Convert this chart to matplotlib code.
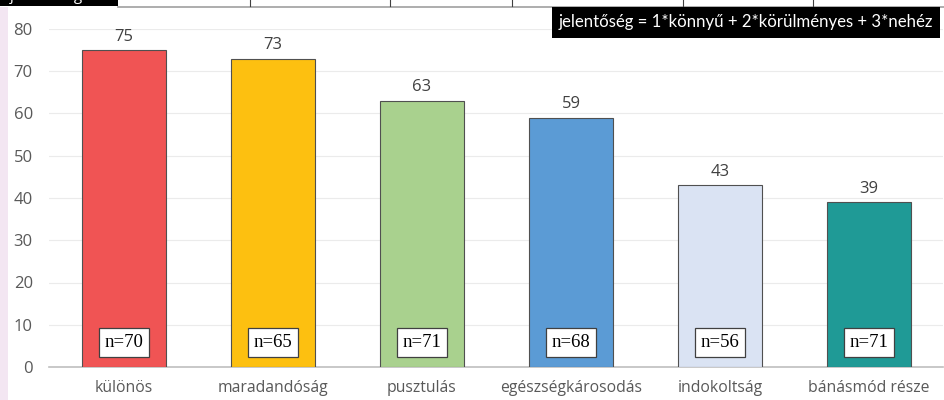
import matplotlib
matplotlib.use("Agg")
import matplotlib.pyplot as plt
from matplotlib.patches import Rectangle

categories = ["különös", "maradandóság", "pusztulás", "egészségkárosodás", "indokoltság", "bánásmód része"]
values = [75, 73, 63, 59, 43, 39]
n_labels = ["n=70", "n=65", "n=71", "n=68", "n=56", "n=71"]
colors = ["#F05454", "#FDC010", "#A9D18E", "#5B9BD5", "#DAE3F3", "#1F9A96"]
yticks = [0, 10, 20, 30, 40, 50, 60, 70, 80]
note = "jelentőség = 1*könnyű + 2*körülményes + 3*nehéz"
table_head = "jelentőség"

plt.rcParams["font.family"] = ["Open Sans", "DejaVu Sans"]

fig = plt.figure(figsize=(9.45, 4.0), dpi=100)
W, H = 945, 400

# left lavender strip
fig.patches.append(Rectangle((0, 0), 8 / W, 1 - 7 / H, transform=fig.transFigure,
                             facecolor="#F3E6F2", edgecolor="none", zorder=0))

ax = fig.add_axes([49.5 / W, 1 - 367 / H, 894 / W, 338 / H])
x = list(range(len(categories)))
ax.bar(x, values, width=0.56, color=colors, edgecolor="#505050", linewidth=0.8, zorder=3)
ax.set_xlim(-0.5, len(categories) - 0.5)
ax.set_ylim(0, 80)
ax.set_yticks(yticks)
ax.set_xticks(x)
ax.set_xticklabels(categories)
ax.tick_params(axis="x", length=0, labelsize=11.3, colors="#595959", pad=9)
ax.tick_params(axis="y", length=0, labelsize=12, colors="#595959", pad=12)
ax.grid(axis="y", color="#EBEBEB", linewidth=0.8, zorder=0)
for s in ["top", "right", "left"]:
    ax.spines[s].set_visible(False)
ax.spines["bottom"].set_color("#BFBFBF")
ax.spines["bottom"].set_linewidth(1.2)

for xi, v, nl in zip(x, values, n_labels):
    ax.text(xi, v + 1.3, str(v), ha="center", va="bottom", fontsize=12, color="#404040")
    ax.text(xi, 5.8, nl, ha="center", va="center", fontsize=13.5, family="Liberation Serif",
            color="black", zorder=5,
            bbox=dict(boxstyle="square,pad=0.32", facecolor="white", edgecolor="#404040", linewidth=0.9))

# top cut-off table row
fig.patches.append(Rectangle((0, 1 - 6 / H), 118 / W, 6 / H, transform=fig.transFigure,
                             facecolor="black", edgecolor="none", zorder=1))
fig.patches.append(Rectangle((118 / W, 1 - 6 / H), 1 - 118 / W, 6 / H, transform=fig.transFigure,
                             facecolor="white", edgecolor="none", zorder=1))
fig.lines.append(plt.Line2D([118 / W, 1], [1 - 6.5 / H, 1 - 6.5 / H], transform=fig.transFigure,
                            color="#A0A0A0", linewidth=1.2, zorder=2))
seps = [250, 390, 512, 683, 813]
for sx in seps:
    fig.lines.append(plt.Line2D([sx / W, sx / W], [1 - 6 / H, 1], transform=fig.transFigure,
                                color="#404040", linewidth=0.8, zorder=2))
fig.text(10 / W, 1 - 4 / H, table_head, color="white", fontsize=11, ha="left", va="bottom", zorder=3)
cell_bounds = [118] + seps + [945]
for i, v in enumerate(values):
    cx = (cell_bounds[i] + cell_bounds[i + 1]) / 2
    fig.text(cx / W, 1 - 4 / H, str(v), color="black", fontsize=11, ha="center", va="bottom", zorder=3)

# note box
fig.patches.append(Rectangle((552 / W, 1 - 38 / H), 388 / W, 31 / H, transform=fig.transFigure,
                             facecolor="black", edgecolor="none", zorder=4))
fig.text(746 / W, 1 - 22.5 / H, note, color="white", fontsize=12.1, ha="center", va="center",
         family=["Lato", "DejaVu Sans"], zorder=5)

fig.savefig("out.png", dpi=100)
